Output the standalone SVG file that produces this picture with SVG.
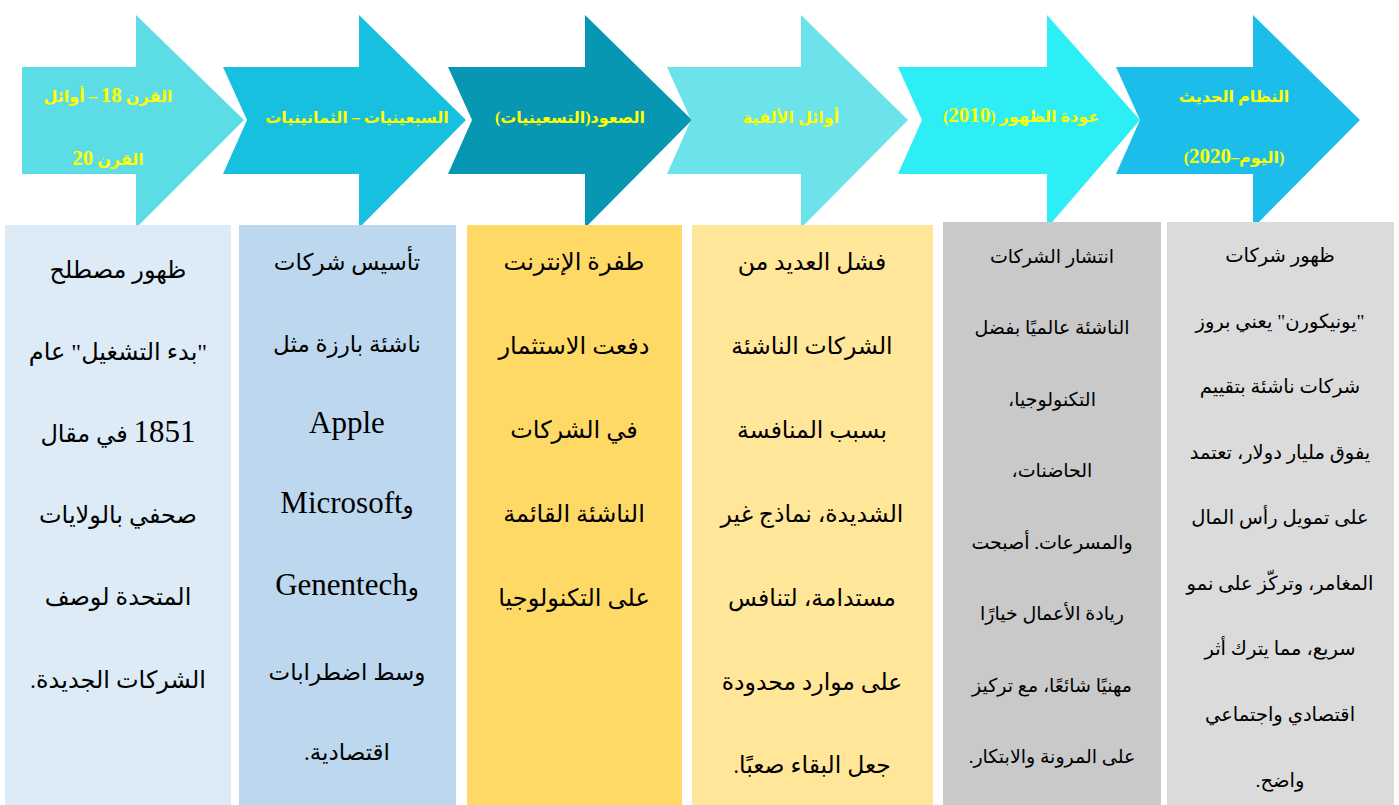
<svg xmlns="http://www.w3.org/2000/svg" width="1399" height="805" viewBox="0 0 1399 805">
<style>
.lbl{font-family:"Liberation Serif","DejaVu Sans",serif;font-weight:bold;fill:#FFFF00;font-size:16px;text-anchor:middle}
.lbl .n{font-size:21px}
.t{font-family:"Liberation Serif","DejaVu Sans",serif;fill:#000;text-anchor:middle}
.b1{font-size:24px}
.b2{font-size:23px}
.b3{font-size:24px}
.b4{font-size:23.5px}
.b5{font-size:19px}
.b6{font-size:19.5px}
.lat{font-size:31px}
</style>
<rect width="1399" height="805" fill="#fff"/>
<g id="arrows">
<g id="arrow1"><path d="M22,67 H136 V15 L244,120 L136,228 V174 H22 Z" fill="#5CDDE5"/>
<text class="lbl" direction="rtl" x="108" y="102">القرن <tspan class="n">18</tspan> – أوائل</text>
<text class="lbl" direction="rtl" x="108" y="165">القرن <tspan class="n">20</tspan></text></g>
<g id="arrow2"><path d="M223,67 H359 V15 L466,120 L359,228 V174 H223 L247,120 Z" fill="#17C0DF"/>
<text class="lbl" direction="rtl" x="357" y="123">السبعينيات – الثمانينيات</text></g>
<g id="arrow3"><path d="M448,67 H585 V15 L692,120 L585,228 V174 H448 L472,120 Z" fill="#0797B2"/>
<text class="lbl" direction="rtl" x="570" y="123">الصعود(التسعينيات)</text></g>
<g id="arrow4"><path d="M667,67 H801 V15 L908,120 L801,228 V174 H667 L691,120 Z" fill="#6CE2EA"/>
<text class="lbl" direction="rtl" x="791" y="123">أوائل الألفية</text></g>
<g id="arrow5"><path d="M898,67 H1047 V15 L1140,120 L1047,228 V174 H898 L922,120 Z" fill="#2DEEF5"/>
<text class="lbl" direction="rtl" x="1021" y="122">عودة الظهور (<tspan class="n">2010</tspan>)</text></g>
<g id="arrow6"><path d="M1116,67 H1253 V15 L1360,120 L1253,228 V174 H1116 L1140,120 Z" fill="#1DBDEB"/>
<text class="lbl" direction="rtl" x="1234" y="102">النظام الحديث</text>
<text class="lbl" direction="ltr" x="1234" y="163">(<tspan class="n">2020</tspan>–اليوم)</text></g>
</g>
<g id="connectors"></g>
<g id="box1"><rect x="5" y="225" width="226" height="580" fill="#DDEBF7"/>
<text class="t b1" direction="rtl" x="118" y="278">ظهور مصطلح</text>
<text class="t b1" direction="rtl" x="118" y="360">"بدء التشغيل" عام</text>
<text class="t b1" direction="rtl" x="118" y="442"><tspan class="lat">1851</tspan> في مقال</text>
<text class="t b1" direction="rtl" x="118" y="523">صحفي بالولايات</text>
<text class="t b1" direction="rtl" x="118" y="605">المتحدة لوصف</text>
<text class="t b1" direction="rtl" x="118" y="688">الشركات الجديدة.</text></g>
<g id="box2"><rect x="239" y="225" width="217" height="580" fill="#BDD7EE"/>
<text class="t b2" direction="rtl" x="347" y="270">تأسيس شركات</text>
<text class="t b2" direction="rtl" x="347" y="352">ناشئة بارزة مثل</text>
<text class="t lat" x="347" y="433">Apple</text>
<text class="t b2" direction="rtl" x="347" y="513">و<tspan class="lat">Microsoft</tspan></text>
<text class="t b2" direction="rtl" x="347" y="595">و<tspan class="lat">Genentech</tspan></text>
<text class="t b2" direction="rtl" x="347" y="680">وسط اضطرابات</text>
<text class="t b2" direction="rtl" x="347" y="760">اقتصادية.</text></g>
<g id="box3"><rect x="467" y="225" width="215" height="580" fill="#FFD966"/>
<text class="t b3" direction="rtl" x="574" y="270">طفرة الإنترنت</text>
<text class="t b3" direction="rtl" x="574" y="354">دفعت الاستثمار</text>
<text class="t b3" direction="rtl" x="574" y="438">في الشركات</text>
<text class="t b3" direction="rtl" x="574" y="522">الناشئة القائمة</text>
<text class="t b3" direction="rtl" x="574" y="606">على التكنولوجيا</text></g>
<g id="box4"><rect x="692" y="225" width="241" height="580" fill="#FFE699"/>
<text class="t b4" direction="rtl" x="812" y="270">فشل العديد من</text>
<text class="t b4" direction="rtl" x="812" y="354">الشركات الناشئة</text>
<text class="t b4" direction="rtl" x="812" y="438">بسبب المنافسة</text>
<text class="t b4" direction="rtl" x="812" y="522">الشديدة، نماذج غير</text>
<text class="t b4" direction="rtl" x="812" y="606">مستدامة، لتنافس</text>
<text class="t b4" direction="rtl" x="812" y="690">على موارد محدودة</text>
<text class="t b4" direction="rtl" x="812" y="773">جعل البقاء صعبًا.</text></g>
<g id="box5"><rect x="943" y="222" width="218" height="583" fill="#C9C9C9"/>
<text class="t b5" direction="rtl" x="1052" y="263">انتشار الشركات</text>
<text class="t b5" direction="rtl" x="1052" y="334">الناشئة عالميًا بفضل</text>
<text class="t b5" direction="rtl" x="1052" y="406">التكنولوجيا،</text>
<text class="t b5" direction="rtl" x="1052" y="477">الحاضنات،</text>
<text class="t b5" direction="rtl" x="1052" y="549">والمسرعات. أصبحت</text>
<text class="t b5" direction="rtl" x="1052" y="620">ريادة الأعمال خيارًا</text>
<text class="t b5" direction="rtl" x="1052" y="692">مهنيًا شائعًا، مع تركيز</text>
<text class="t b5" direction="rtl" x="1052" y="763">على المرونة والابتكار.</text></g>
<g id="box6"><rect x="1167" y="222" width="227" height="583" fill="#DBDBDB"/>
<text class="t b6" direction="rtl" x="1280" y="262">ظهور شركات</text>
<text class="t b6" direction="rtl" x="1280" y="328">"يونيكورن" يعني بروز</text>
<text class="t b6" direction="rtl" x="1280" y="393">شركات ناشئة بتقييم</text>
<text class="t b6" direction="rtl" x="1280" y="459">يفوق مليار دولار، تعتمد</text>
<text class="t b6" direction="rtl" x="1280" y="524">على تمويل رأس المال</text>
<text class="t b6" direction="rtl" x="1280" y="590">المغامر، وتركّز على نمو</text>
<text class="t b6" direction="rtl" x="1280" y="655">سريع، مما يترك أثر</text>
<text class="t b6" direction="rtl" x="1280" y="721">اقتصادي واجتماعي</text>
<text class="t b6" direction="rtl" x="1280" y="787">واضح.</text></g>
</svg>
